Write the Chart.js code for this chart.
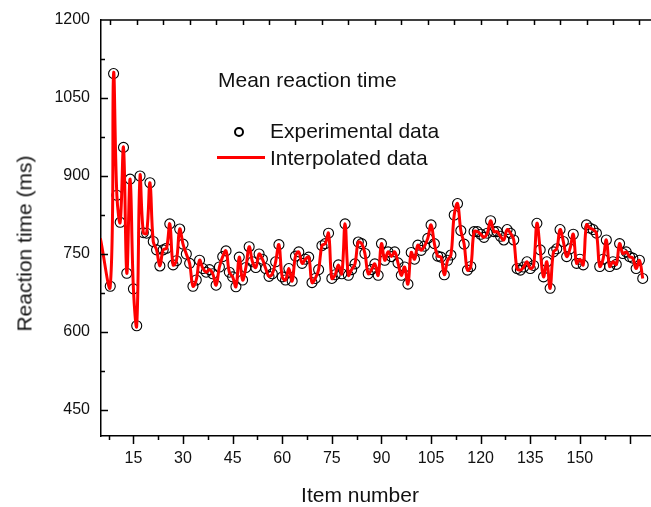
<!DOCTYPE html>
<html>
<head>
<meta charset="utf-8">
<script src="https://cdn.jsdelivr.net/npm/chart.js@4.4.1/dist/chart.umd.min.js"></script>
<style>
  html, body { margin: 0; padding: 0; background: #fff; }
  #wrap { position: relative; width: 651px; height: 507px; overflow: hidden; }
  .lg { position: absolute; font: 21px 'Liberation Sans', Arial, sans-serif; line-height: 1; color: #111; white-space: nowrap; }
  .axt { text-align: center; width: 300px; height: 21px; }
</style>
</head>
<body>
<div id="wrap">
  <canvas id="c" width="651" height="507" style="width:651px;height:507px"></canvas>
  <div class="lg" style="left:218px;top:69px">Mean reaction time</div>
  <div style="position:absolute;left:234px;top:127px;width:6px;height:6px;border:2.5px solid #000;border-radius:50%"></div>
  <div class="lg" style="left:270px;top:120px">Experimental data</div>
  <div style="position:absolute;left:217px;top:156px;width:48px;height:3px;background:#ff0000"></div>
  <div class="lg" style="left:270px;top:147px">Interpolated data</div>
  <!-- axis titles sit off-centre in the original, so they are placed by hand -->
  <div class="lg axt" style="left:210px;top:484px">Item number</div>
  <div class="lg axt" style="left:-126px;top:233px;transform:rotate(-90deg)">Reaction time (ms)</div>
</div>
<script>
// item number of the first value (item 5 is off the axis, 6 and 7 have no visible point)
const firstItem = 5;
const reactionTimes = [
  780, null, null, 688, 1097, 863, 811, 955, 713, 894,          // 5-14
  683, 612, 900, 791, 790, 887, 774, 758, 727, 758,            // 15-24
  761, 808, 729, 737, 798, 769, 750, 732, 688, 700,            // 25-34
  738, 722, 715, 720, 712, 690, 725, 745, 756, 715,            // 35-44
  706, 687, 744, 700, 724, 764, 735, 724, 750, 740,            // 45-54
  722, 707, 712, 735, 768, 706, 700, 722, 698, 746,            // 55-64
  754, 732, 740, 744, 695, 703, 720, 766, 770, 790,            // 65-74
  703, 710, 729, 712, 808, 709, 720, 731, 773, 770,            // 75-84
  751, 712, 720, 731, 709, 770, 738, 754, 745, 754,            // 85-94
  733, 709, 725, 692, 753, 740, 767, 757, 765, 780,            // 95-104
  806, 770, 746, 744, 710, 738, 748, 825, 847, 795,            // 105-114
  769, 719, 726, 793, 793, 788, 782, 790, 814, 793,            // 115-124
  793, 784, 777, 797, 790, 777, 722, 719, 725, 735,            // 125-134
  722, 728, 809, 758, 706, 735, 684, 754, 760, 797,            // 135-144
  774, 745, 760, 788, 732, 740, 729, 806, 800, 797,            // 145-154
  790, 726, 740, 777, 726, 735, 730, 770, 751, 754,            // 155-164
  745, 742, 722, 738, 703                                      // 165-169
];
const xTicks = [15, 30, 45, 60, 75, 90, 105, 120, 135, 150];
const yTicks = [450, 600, 750, 900, 1050, 1200];

const xMin = 5.2, xMax = 171.5;
const points = reactionTimes.map((v, i) => ({ x: firstItem + i, y: v }));
const font = "'Liberation Sans', Arial, sans-serif";

// tick marks like the original: bottom outward, left and top inward
const axisTicks = {
  id: 'axisTicks',
  afterDraw(chart) {
    const { ctx, chartArea: a, scales: { x, y } } = chart;
    ctx.save();
    ctx.strokeStyle = '#000';
    ctx.lineWidth = 1.5;
    ctx.beginPath();
    ctx.moveTo(a.left, a.top);
    ctx.lineTo(a.right, a.top);
    for (let v = 7.5; v <= x.max; v += 7.5) {
      const px = Math.round(x.getPixelForValue(v)) + 0.5;
      ctx.moveTo(px, a.bottom);
      ctx.lineTo(px, a.bottom + (v % 15 === 0 ? 8 : 4));
    }
    for (let v = 8; v <= x.max; v += 8) {
      const px = Math.round(x.getPixelForValue(v)) + 0.5;
      ctx.moveTo(px, a.top);
      ctx.lineTo(px, a.top + 5);
    }
    for (let v = 450; v < 1200; v += 75) {
      const py = Math.round(y.getPixelForValue(v)) + 0.5;
      ctx.moveTo(a.left, py);
      ctx.lineTo(a.left + (v % 150 === 0 ? 7 : 4), py);
    }
    ctx.stroke();
    ctx.restore();
  }
};

new Chart(document.getElementById('c'), {
  type: 'scatter',
  data: {
    datasets: [
      {
        label: 'Interpolated data',
        data: points,
        showLine: true,
        spanGaps: true,
        borderColor: '#ff0000',
        borderWidth: 3,
        tension: 0.4,
        pointRadius: 0,
        clip: 0,
        order: 1
      },
      {
        label: 'Experimental data',
        data: points,
        showLine: false,
        pointRadius: c => (c.raw && c.raw.x < xMin ? 0 : 5),
        pointBorderWidth: 1.1,
        pointBorderColor: '#000',
        pointBackgroundColor: 'rgba(0,0,0,0)',
        clip: 0,
        order: 2
      }
    ]
  },
  options: {
    responsive: false,
    animation: false,
    layout: { autoPadding: false, padding: { top: 20, right: 0, left: 0, bottom: 0 } },
    plugins: { legend: { display: false }, tooltip: { enabled: false } },
    scales: {
      x: {
        type: 'linear',
        min: xMin,
        max: xMax,
        afterBuildTicks: s => { s.ticks = xTicks.map(v => ({ value: v })); },
        afterFit: s => { s.height = 71; s.paddingLeft = 0; s.paddingRight = 0; },
        grid: { display: false, drawTicks: false },
        border: { display: true, color: '#000', width: 1.5 },
        ticks: { color: '#111', font: { family: font, size: 16 }, padding: 13, maxRotation: 0, callback: v => String(v) }
      },
      y: {
        min: 400,
        max: 1200,
        afterBuildTicks: s => { s.ticks = yTicks.map(v => ({ value: v })); },
        afterFit: s => { s.width = 101; s.paddingTop = 0; s.paddingBottom = 0; },
        grid: { display: false, drawTicks: false },
        border: { display: true, color: '#000', width: 1.5 },
        ticks: { color: '#111', font: { family: font, size: 16 }, padding: 11, callback: v => String(v) }
      }
    }
  },
  plugins: [axisTicks]
});
</script>
</body>
</html>
